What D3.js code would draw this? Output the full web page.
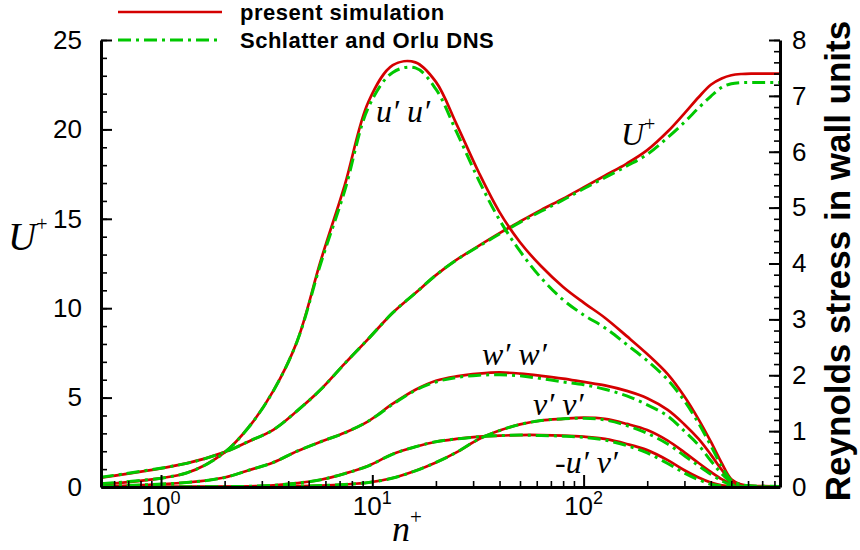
<!DOCTYPE html>
<html>
<head>
<meta charset="utf-8">
<script src="https://cdn.jsdelivr.net/npm/d3@7"></script>
<style>
  html, body { margin: 0; padding: 0; background: #fff; }
  svg { display: block; }
  .tick-label { font-family: "Liberation Sans", Arial, Helvetica, sans-serif; fill: #000; }
  .math { font-family: "Liberation Serif", "Times New Roman", serif; font-style: italic; fill: #000; }
  .bold-text { font-family: "Liberation Sans", Arial, Helvetica, sans-serif; font-weight: bold; fill: #000; }
</style>
</head>
<body>
<svg id="chart" width="860" height="550"></svg>
<script>
// Wall-normal distance in wall units (shared grid for every profile)
const nPlus = [0.52, 1.32, 2.0, 2.6, 3.4, 4.4, 5.7, 7.4, 9.6, 12.5, 16, 20, 25, 32, 40, 50, 63, 80,
               100, 126, 160, 200, 250, 300, 350, 400, 450, 500, 560, 630, 720, 850];

// Mean velocity U+ (left axis)
const uMeanSim = [0.52, 1.32, 1.95, 2.55, 3.2, 4.25, 5.45, 6.9, 8.3, 9.75, 10.85, 11.85, 12.7, 13.5, 14.2, 14.85, 15.5, 16.13,
                  16.76, 17.41, 18.09, 18.84, 19.88, 20.9, 21.8, 22.5, 22.85, 23.03, 23.1, 23.12, 23.12, 23.12];
const uMeanDns = [0.55, 1.32, 1.95, 2.55, 3.2, 4.25, 5.45, 6.9, 8.3, 9.75, 10.85, 11.85, 12.7, 13.47, 14.15, 14.8, 15.42, 16.05,
                  16.68, 17.3, 17.95, 18.6, 19.55, 20.4, 21.2, 21.85, 22.35, 22.55, 22.62, 22.63, 22.63, 22.63];

// Reynolds stresses in wall units (right axis)
const uuSim = [0.05, 0.25, 0.62, 1.07, 1.72, 2.6, 4.05, 5.4, 6.9, 7.55, 7.6, 7.25, 6.5, 5.62, 4.92, 4.38, 3.95, 3.58,
               3.3, 3.03, 2.7, 2.38, 2.02, 1.62, 1.21, 0.81, 0.43, 0.14, 0.04, 0.02, 0.015, 0.01];
const uuDns = [0.06, 0.25, 0.62, 1.07, 1.72, 2.6, 4.0, 5.3, 6.8, 7.42, 7.5, 7.12, 6.36, 5.48, 4.78, 4.22, 3.74, 3.35,
               3.08, 2.85, 2.55, 2.26, 1.92, 1.54, 1.14, 0.74, 0.37, 0.12, 0.04, 0.02, 0.015, 0.01];
const wwSim = [0.01, 0.08, 0.17, 0.3, 0.44, 0.64, 0.81, 0.97, 1.18, 1.49, 1.74, 1.9, 1.98, 2.03, 2.05, 2.03, 1.99, 1.94,
               1.88, 1.82, 1.72, 1.59, 1.38, 1.12, 0.86, 0.58, 0.31, 0.12, 0.04, 0.015, 0.01, 0.01];
const wwDns = [0.01, 0.08, 0.17, 0.3, 0.44, 0.64, 0.81, 0.97, 1.18, 1.48, 1.73, 1.88, 1.96, 2.0, 2.01, 1.99, 1.94, 1.88,
               1.83, 1.75, 1.63, 1.47, 1.27, 1.0, 0.75, 0.47, 0.24, 0.09, 0.03, 0.01, 0.01, 0.01];
const vvSim = [0, 0.001, 0.002, 0.004, 0.008, 0.015, 0.025, 0.045, 0.08, 0.16, 0.29, 0.44, 0.62, 0.86, 1.01, 1.12, 1.19, 1.22,
               1.24, 1.22, 1.13, 1.02, 0.83, 0.62, 0.43, 0.27, 0.14, 0.06, 0.02, 0.005, 0.003, 0.002];
const vvDns = [0, 0.001, 0.002, 0.004, 0.008, 0.015, 0.025, 0.045, 0.08, 0.16, 0.29, 0.44, 0.62, 0.86, 1.01, 1.12, 1.19, 1.22,
               1.23, 1.2, 1.1, 0.96, 0.77, 0.56, 0.38, 0.23, 0.11, 0.04, 0.015, 0.004, 0.002, 0.002];
const uvSim = [0, 0.002, 0.006, 0.012, 0.03, 0.07, 0.13, 0.24, 0.38, 0.59, 0.72, 0.81, 0.86, 0.9, 0.92, 0.93, 0.93, 0.92,
               0.9, 0.86, 0.77, 0.66, 0.48, 0.3, 0.17, 0.08, 0.03, 0.01, 0.005, 0.002, 0.001, 0];
const uvDns = [0, 0.002, 0.006, 0.012, 0.03, 0.07, 0.13, 0.24, 0.38, 0.59, 0.72, 0.81, 0.86, 0.9, 0.92, 0.93, 0.92, 0.91,
               0.89, 0.84, 0.74, 0.61, 0.42, 0.25, 0.13, 0.05, 0.02, 0.008, 0.003, 0.001, 0, 0];

// Axis ticks
const leftMajor = [0, 5, 10, 15, 20, 25];
const leftMinor = d3.range(0, 26, 1);
const rightMajor = [0, 1, 2, 3, 4, 5, 6, 7, 8];
const rightMinor = d3.range(0, 8.01, 0.2);
const xMajorExp = [0, 1, 2];
const xMinor = [0.6, 0.7, 0.8, 0.9, 2, 3, 4, 5, 6, 7, 8, 9, 20, 30, 40, 50, 60, 70, 80, 90,
                200, 300, 400, 500, 600, 700, 800];

const legendLabels = ["present simulation", "Schlatter and Orlu DNS"];

const svg = d3.select("#chart");
const L = 101, R = 780, T = 40, B = 487;

const x = d3.scaleLog().domain([0.52, 850]).range([L, R]);
const yL = d3.scaleLinear().domain([0, 25]).range([B, T]);
const yR = d3.scaleLinear().domain([0, 8]).range([B, T]);

const RED = "#d40000", GREEN = "#00c800";

svg.append("defs").append("clipPath").attr("id", "plot-clip")
  .append("rect").attr("x", L).attr("y", T - 5).attr("width", R - L).attr("height", B - T + 5);

const curves = svg.append("g").attr("clip-path", "url(#plot-clip)");

function profile(values, yScale) {
  return d3.line()
    .x((d, i) => x(nPlus[i]))
    .y(d => yScale(d))
    .curve(d3.curveCatmullRom.alpha(0.5))(values);
}

const simSeries = [[uMeanSim, yL], [uuSim, yR], [wwSim, yR], [vvSim, yR], [uvSim, yR]];
const dnsSeries = [[uMeanDns, yL], [uuDns, yR], [wwDns, yR], [vvDns, yR], [uvDns, yR]];

simSeries.forEach(([vals, ys]) => {
  curves.append("path").attr("d", profile(vals, ys))
    .attr("fill", "none").attr("stroke", RED).attr("stroke-width", 2.7);
});
dnsSeries.forEach(([vals, ys]) => {
  curves.append("path").attr("d", profile(vals, ys))
    .attr("fill", "none").attr("stroke", GREEN).attr("stroke-width", 3)
    .attr("stroke-dasharray", "13,5,3,5");
});

// Axes
function styleAxis(g, width) {
  g.selectAll(".domain").attr("stroke", "#000").attr("stroke-width", width);
  g.selectAll(".tick line").attr("stroke", "#000").attr("stroke-width", 2);
  g.selectAll("text").attr("class", "tick-label").attr("font-family", null)
    .attr("font-size", null).style("font-size", "26px");
}
function minorTicks(g) {
  g.select(".domain").remove();
  g.selectAll(".tick line").attr("stroke", "#000").attr("stroke-width", 1.6);
}

// left axis
svg.append("g").attr("transform", `translate(${L},0)`)
  .call(d3.axisLeft(yL).tickValues(leftMinor).tickSizeInner(-6).tickSizeOuter(0).tickFormat(""))
  .call(minorTicks);
svg.append("g").attr("transform", `translate(${L},0)`)
  .call(d3.axisLeft(yL).tickValues(leftMajor).tickSizeInner(-11).tickSizeOuter(0).tickPadding(19))
  .call(styleAxis, 3);

// right axis
svg.append("g").attr("transform", `translate(${R},0)`)
  .call(d3.axisRight(yR).tickValues(rightMinor).tickSizeInner(-6).tickSizeOuter(0).tickFormat(""))
  .call(minorTicks);
svg.append("g").attr("transform", `translate(${R},0)`)
  .call(d3.axisRight(yR).tickValues(rightMajor).tickSizeInner(-11).tickSizeOuter(0).tickPadding(12))
  .call(styleAxis, 3);

// bottom axis
svg.append("g").attr("transform", `translate(0,${B})`)
  .call(d3.axisBottom(x).tickValues(xMinor).tickSizeInner(-6).tickSizeOuter(0).tickFormat(""))
  .call(minorTicks);
svg.append("g").attr("transform", `translate(0,${B})`)
  .call(d3.axisBottom(x).tickValues(xMajorExp.map(e => Math.pow(10, e))).tickSizeInner(-12).tickSizeOuter(0).tickFormat(""))
  .call(styleAxis, 3);

// decade labels as 10 with a raised exponent
xMajorExp.forEach(e => {
  const t = svg.append("text").attr("class", "tick-label").style("font-size", "26px")
    .attr("x", x(Math.pow(10, e))).attr("y", B + 28).attr("text-anchor", "middle");
  t.append("tspan").text("10");
  t.append("tspan").style("font-size", "18px").attr("dy", -11).text(String(e));
});

// axis titles
const yTitle = svg.append("text").attr("class", "math").attr("x", 8).attr("y", 250).style("font-size", "39px");
yTitle.append("tspan").text("U");
yTitle.append("tspan").style("font-size", "20px").attr("dy", -19).attr("font-style", "normal").text("+");

const xTitle = svg.append("text").attr("class", "math").attr("x", 392).attr("y", 541).style("font-size", "36px");
xTitle.append("tspan").text("n");
xTitle.append("tspan").style("font-size", "21px").attr("dy", -17).attr("font-style", "normal").text("+");

svg.append("text").attr("class", "bold-text")
  .attr("transform", "translate(850,261) rotate(-90)")
  .attr("text-anchor", "middle").style("font-size", "35px")
  .text("Reynolds stress in wall units");

// curve annotations
function note(xPos, yPos, label, size) {
  svg.append("text").attr("class", "math").attr("x", xPos).attr("y", yPos)
    .style("font-size", size + "px").text(label);
}
note(376, 122, "u\u2032 u\u2032", 32);
note(482, 365, "w\u2032 w\u2032", 32);
note(533, 415, "v\u2032 v\u2032", 32);
note(555, 473, "-u\u2032 v\u2032", 32);

const uLabel = svg.append("text").attr("class", "math").attr("x", 621).attr("y", 145).style("font-size", "32px");
uLabel.append("tspan").text("U");
uLabel.append("tspan").style("font-size", "20px").attr("dy", -14).attr("font-style", "normal").text("+");

// legend
const legend = svg.append("g");
legendLabels.forEach((label, i) => {
  const yy = 12 + i * 28;
  legend.append("line").attr("x1", 118).attr("x2", 222).attr("y1", yy).attr("y2", yy)
    .attr("stroke", i === 0 ? RED : GREEN).attr("stroke-width", i === 0 ? 2.7 : 3)
    .attr("stroke-dasharray", i === 0 ? null : "13,5,3,5");
  legend.append("text").attr("class", "bold-text").style("font-size", "22px")
    .style("letter-spacing", "0.5px")
    .attr("x", 240).attr("y", yy + 8).text(label);
});
</script>
</body>
</html>
